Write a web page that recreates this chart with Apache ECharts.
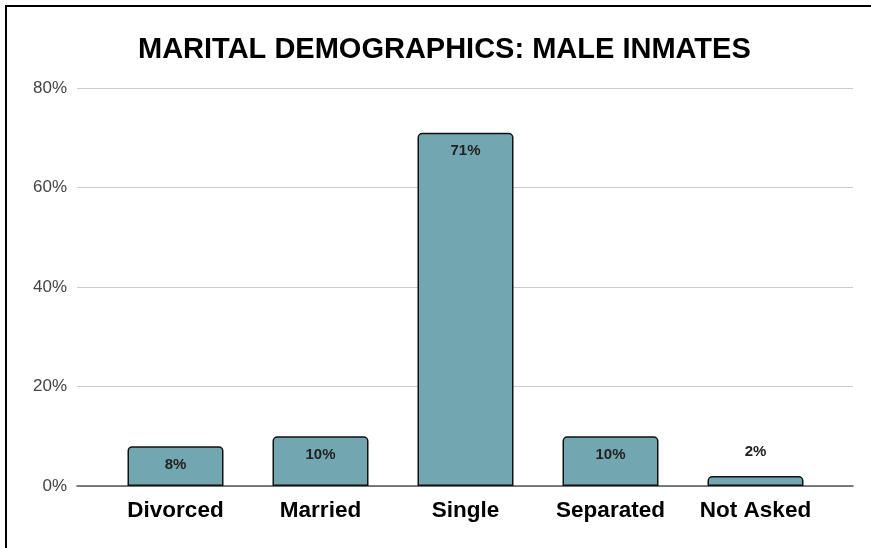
<!DOCTYPE html>
<html>
<head>
<meta charset="utf-8">
<script src="https://cdn.jsdelivr.net/npm/echarts@6/dist/echarts.min.js"></script>
<style>
html,body{margin:0;padding:0;background:#fff;overflow:hidden;}
#frame{position:absolute;left:5px;top:5px;width:900px;height:600px;border:2px solid #000;box-sizing:border-box;}
#chart{position:absolute;left:0;top:0;width:871px;height:548px;}
</style>
</head>
<body>
<div id="frame"></div>
<div id="chart"></div>
<script>
const titleText = 'MARITAL DEMOGRAPHICS: MALE INMATES';
const categories = ['Divorced', 'Married', 'Single', 'Separated', 'Not Asked'];
const values = [8, 10, 71, 10, 2];
const yTicks = [0, 20, 40, 60, 80];

const chart = echarts.init(document.getElementById('chart'), null, {renderer: 'canvas'});
const FONT = 'Liberation Sans, Arial, sans-serif';

const seriesData = values.map((v, i) => ({
  value: v,
  label: v < 5 ? {position: 'top', distance: 17} : {position: 'insideTop', distance: 11}
}));

chart.setOption({
  animation: false,
  title: {
    text: titleText,
    left: 133,
    top: 30,
    textStyle: {fontFamily: FONT, fontWeight: 'bold', fontSize: 29, color: '#000'}
  },
  grid: [
    {left: 77, right: 18, top: 88, bottom: 62},
    {left: 103, right: 43, top: 88, bottom: 62}
  ],
  xAxis: [
    {gridIndex: 0, type: 'category', data: [''], axisTick: {show: false}, axisLabel: {show: false},
     axisLine: {show: true, lineStyle: {color: '#555', width: 1.5}}},
    {gridIndex: 1, type: 'category', data: categories, axisTick: {show: false},
     axisLine: {show: false},
     axisLabel: {interval: 0, hideOverlap: false, margin: 13, fontFamily: FONT, fontWeight: 'bold', fontSize: 22.5, color: '#000'}}
  ],
  yAxis: [
    {gridIndex: 0, type: 'value', min: yTicks[0], max: yTicks[yTicks.length - 1], interval: 20,
     axisLine: {show: false}, axisTick: {show: false},
     axisLabel: {formatter: '{value}%', margin: 10, fontFamily: FONT, fontSize: 17, color: '#444'},
     splitLine: {lineStyle: {color: '#cccccc', width: 1}}},
    {gridIndex: 1, type: 'value', min: yTicks[0], max: yTicks[yTicks.length - 1], interval: 20,
     show: false, splitLine: {show: false}}
  ],
  series: [{
    type: 'bar',
    xAxisIndex: 1,
    yAxisIndex: 1,
    data: seriesData,
    barWidth: 96,
    itemStyle: {color: '#72a6b0', borderColor: '#111', borderWidth: 1.5, borderRadius: [4, 4, 0, 0]},
    label: {show: true, formatter: '{c}%', fontFamily: FONT, fontWeight: 'bold', fontSize: 15, color: '#222'}
  }]
});
</script>
</body>
</html>
